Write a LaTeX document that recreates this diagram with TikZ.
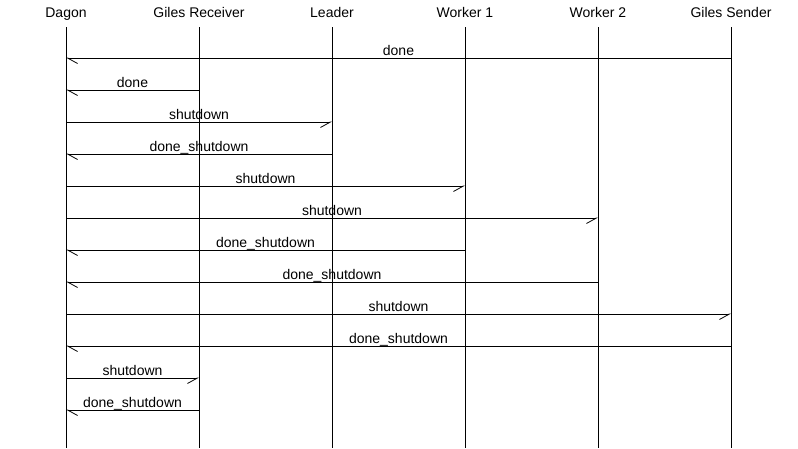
\documentclass[tikz,border=0pt]{standalone}
\usepackage{fontspec}
\setmainfont{Liberation Sans}
\usetikzlibrary{arrows.meta}

\tikzset{
    actor/.style={anchor=base, inner sep=0pt, font=\fontsize{14}{16}\selectfont},
    life/.style={line width=1pt},
    tol/.style={line width=1pt, -{Straight Barb[harpoon, length=10pt, width=11pt, line width=0.8pt]}},
    tor/.style={line width=1pt, -{Straight Barb[harpoon, swap, length=10pt, width=11pt, line width=0.8pt]}},
    lbl/.style={midway, anchor=base, yshift=3pt, inner sep=0pt, font=\fontsize{14}{16}\selectfont}
}

\begin{document}
\begin{tikzpicture}[x=1pt, y=-1pt]
    \useasboundingbox (0, 0) rectangle (798, 448);

    % Participants and their lifelines
    \foreach \name/\x/\txt in {dagon/66/Dagon, recv/199/Giles Receiver, leader/332/Leader,
                              wone/465/Worker 1, wtwo/598/Worker 2, sender/731/Giles Sender} {
        \node[actor] (\name) at (\x, 17.5) {\txt};
        \coordinate (\name-top) at (\x, 27);
        \coordinate (\name-end) at (\x, 448);
        \draw[life] (\name-top) -- (\name-end);
    }

    % Messages
    \foreach \y/\from/\to/\dir/\txt in {
            58/sender/dagon/tol/done,
            90/recv/dagon/tol/done,
            122/dagon/leader/tor/shutdown,
            154/leader/dagon/tol/done\_shutdown,
            186/dagon/wone/tor/shutdown,
            218/dagon/wtwo/tor/shutdown,
            250/wone/dagon/tol/done\_shutdown,
            282/wtwo/dagon/tol/done\_shutdown,
            314/dagon/sender/tor/shutdown,
            346/sender/dagon/tol/done\_shutdown,
            378/dagon/recv/tor/shutdown,
            410/recv/dagon/tol/done\_shutdown} {
        \draw[\dir] (\from |- 0, \y) -- (\to |- 0, \y) node[lbl] {\txt};
    }
\end{tikzpicture}
\end{document}
